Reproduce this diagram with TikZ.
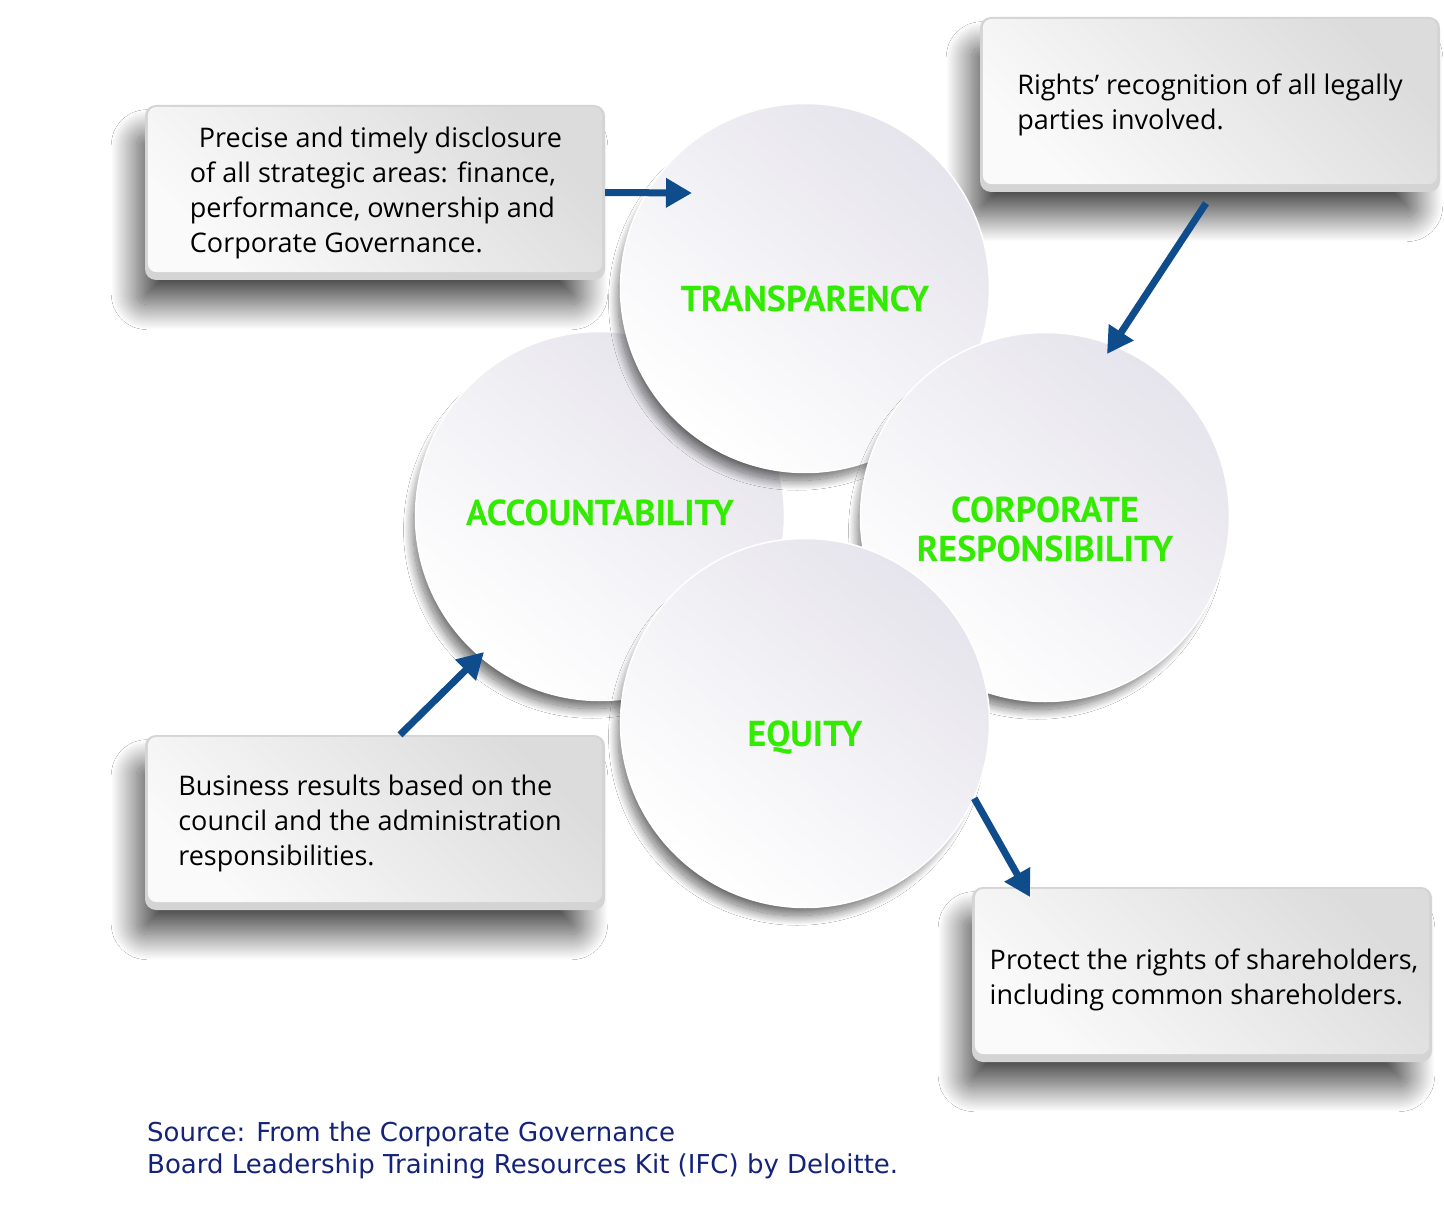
\documentclass[tikz,border=0pt]{standalone}
\usepackage{fontspec}
\setmainfont{Open Sans}
\newfontfamily\labfont{PT Sans}
\newfontfamily\srcfont{DejaVu Sans}
\usetikzlibrary{arrows.meta,shadows.blur}
\definecolor{arrowblue}{HTML}{0F4C8C}
\definecolor{labgreen}{HTML}{33EB00}
\definecolor{srcblue}{HTML}{14237A}
\definecolor{circtop}{HTML}{E6E4EC}
\definecolor{boxtop}{HTML}{DCDCDC}
\definecolor{boxbot}{HTML}{FAFAFA}
\definecolor{rimgray}{HTML}{D4D4D4}
\begin{document}
\begin{tikzpicture}[x=1pt,y=-1pt,
  boxbase/.style={rounded corners=11pt, fill=rimgray, minimum width=460pt, minimum height=175pt, inner sep=0pt,
    blur shadow={shadow xshift=-16pt, shadow yshift=-28pt, shadow blur radius=26pt, shadow blur steps=40, shadow opacity=70, shadow scale=0.97}},
  boxface/.style={rounded corners=9pt, top color=boxtop, bottom color=boxbot, shading angle=-45},
  boxtext/.style={align=left, font=\fontsize{27}{35}\selectfont, text=black, inner sep=0pt},
  circ/.style={circle, minimum size=369pt, inner sep=0pt, draw=white, line width=1.5pt,
    top color=circtop, bottom color=white, shading angle=-40,
    blur shadow={shadow xshift=-8pt, shadow yshift=-14pt, shadow blur radius=10pt, shadow blur steps=30, shadow opacity=60, shadow scale=0.97}},
  lab/.style={font=\labfont\bfseries\fontsize{36}{39}\selectfont, text=labgreen, align=center, inner sep=0pt},
  arr/.style={draw=arrowblue, line width=7pt, -{Triangle[length=26pt,width=28pt]}},
  src/.style={font=\srcfont\fontsize{26}{32}\selectfont, text=srcblue, align=left, inner sep=0pt}
]
\useasboundingbox (0,0) rectangle (1444,1225);
\fill[white] (0,0) rectangle (1444,1225);

% boxes
\node[boxbase] (b1) at (375,192.5) {};
\shade[boxface] ([xshift=3pt,yshift=-2pt]b1.north west) rectangle ([xshift=-3pt,yshift=8pt]b1.south east);
\node[boxtext] (t1) at (376,193) {\hspace{9pt}Precise and timely disclosure\\of all strategic areas: finance,\\performance, ownership and\\Corporate Governance.};

\node[boxbase] (b2) at (1210,104.5) {};
\shade[boxface] ([xshift=3pt,yshift=-2pt]b2.north west) rectangle ([xshift=-3pt,yshift=8pt]b2.south east);
\node[boxtext] (t2) at (1210,104.5) {Rights’ recognition of all legally\\parties involved.};

\node[boxbase] (b3) at (375,822.5) {};
\shade[boxface] ([xshift=3pt,yshift=-2pt]b3.north west) rectangle ([xshift=-3pt,yshift=8pt]b3.south east);
\node[boxtext] (t3) at (370,823) {Business results based on the\\council and the administration\\responsibilities.};

\node[boxbase] (b4) at (1202,974.5) {};
\shade[boxface] ([xshift=3pt,yshift=-2pt]b4.north west) rectangle ([xshift=-3pt,yshift=8pt]b4.south east);
\node[boxtext] (t4) at (1204,980) {Protect the rights of shareholders,\\including common shareholders.};

% circles
\node[circ] (acc) at (600,516) {};
\node[circ] (tra) at (805,288) {};
\node[circ] (cor) at (1045,517) {};
\node[circ] (equ) at (805,723) {};

\node[lab] (lacc) at (600,513) {ACCOUNTABILITY};
\node[lab] (ltra) at (805,299) {TRANSPARENCY};
\node[lab] (lcor) at (1045,529) {CORPORATE\\RESPONSIBILITY};
\node[lab] (lequ) at (805,738) {EQUITY};

% arrows
\coordinate (tip1) at (692,193);
\coordinate (tip2) at (1107,354);
\coordinate (tip3) at (484,652);
\coordinate (tip4) at (1030,897);
\draw[arr] (b1.east) -- (tip1);
\draw[arr] ([xshift=-4pt,yshift=-11pt]b2.south) -- (tip2);
\draw[arr] ([xshift=25pt]b3.north) -- (tip3);
\draw[arr] (equ.-24) -- (tip4);

% source
\node[src, anchor=north west] (srct) at (147,1122) {Source: From the Corporate Governance\\Board Leadership Training Resources Kit (IFC) by Deloitte.};
\end{tikzpicture}
\end{document}
